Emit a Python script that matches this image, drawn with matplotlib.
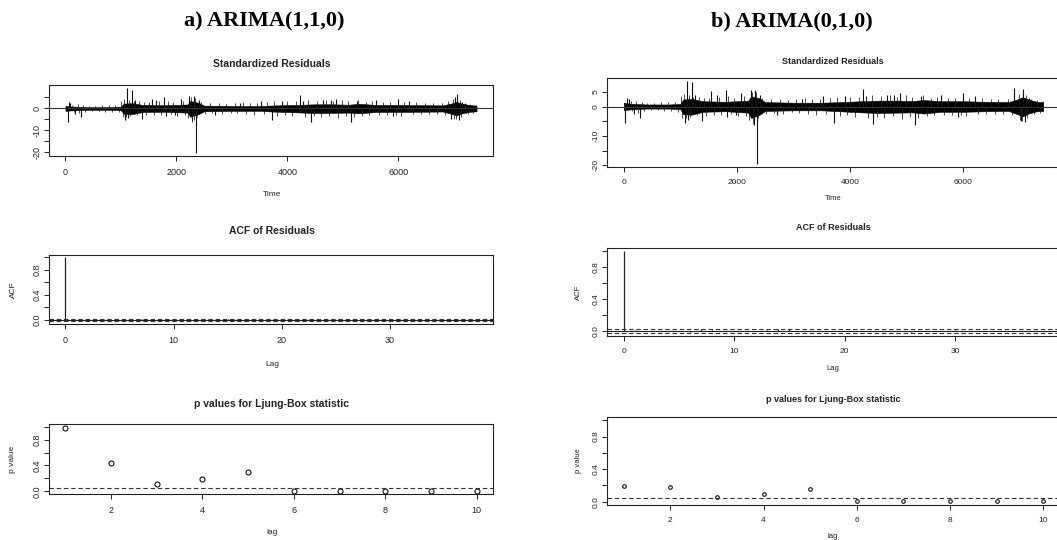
import matplotlib
matplotlib.use("Agg")
import matplotlib.pyplot as plt

W, H = 1057, 540

# ---- a) ARIMA(1,1,0): standardized residuals ----
# envelope of the dense band (time, upper, lower)
a_res_t = [1, 100, 400, 800, 1000, 1050, 1200, 1400, 1800, 2200, 2250, 2400, 2500,
           3000, 3500, 3800, 4200, 4500, 4800, 5100, 5300, 5600, 6000, 6400, 6800,
           6950, 7050, 7150, 7300, 7410]
a_res_hi = [1.1, 0.9, 0.6, 0.6, 0.8, 2.2, 2.4, 1.6, 1.5, 1.8, 3.4, 2.6, 1.3,
            1.1, 1.1, 1.4, 1.6, 1.9, 1.9, 1.7, 2.1, 1.6, 1.6, 1.5, 1.4,
            2.2, 3.0, 2.2, 1.5, 1.3]
a_res_lo = [-1.1, -0.9, -0.6, -0.6, -0.8, -2.4, -2.6, -1.6, -1.5, -1.9, -3.8, -2.6, -1.3,
            -1.1, -1.1, -1.5, -1.8, -2.1, -2.0, -1.9, -2.2, -1.6, -1.6, -1.5, -1.4,
            -2.4, -3.2, -2.2, -1.5, -1.3]
# isolated spikes (time, value)
a_spike_t = [40, 60, 90, 180, 280, 1080, 1115, 1130, 1200, 1260, 1385, 1560, 1640,
             1780, 1820, 1980, 2080, 2230, 2290, 2320, 2360, 2400, 2700, 3150, 3520,
             3720, 3900, 4220, 4280, 4420, 4650, 4780, 4880, 5150, 5250, 5600, 5900,
             6000, 6200, 6950, 7020, 7060, 7090, 7150]
a_spike_v = [-6.0, 3.0, 2.5, -2.5, -4.0, -5.5, 9.5, -4.5, 8.5, 4.0, -5.0, 4.5, 4.0,
             5.0, -3.5, -3.0, 4.5, 5.5, -5.5, 5.5, -20.5, 4.0, -3.0, 2.5, 3.5,
             -5.5, 3.5, 6.0, 3.5, -6.0, 4.0, 4.0, 4.5, -6.3, 3.5, 4.0, -3.5,
             4.5, 3.5, -5.0, 5.0, 6.5, -5.3, 3.0]
# smaller hairs sticking out of the band
a_hair_t = [120, 150, 220, 250, 320, 360, 420, 480, 540, 600, 660, 720, 780, 840, 900, 960,
            1010, 1030, 1060, 1095, 1150, 1170, 1230, 1290, 1330, 1420, 1460, 1500, 1600,
            1680, 1720, 1850, 1900, 1940, 2020, 2120, 2160,
            2210, 2260, 2275, 2310, 2340, 2380,
            2450, 2520, 2600, 2650, 2760, 2820, 2900, 2980, 3050, 3100, 3200, 3260, 3320,
            3400, 3460, 3580, 3640,
            3760, 3820, 3950, 4000, 4080, 4150, 4320, 4380, 4480, 4540, 4600, 4700, 4750,
            4830, 4920, 4980, 5050, 5100, 5200, 5280,
            5350, 5420, 5480, 5530, 5650, 5720, 5800, 5850, 5960, 6050, 6100, 6260, 6320,
            6400, 6480, 6550, 6620, 6700, 6780, 6850,
            6900, 6980, 7000, 7040, 7110, 7130, 7200, 7250, 7300, 7350, 7400]
a_hair_v = [1.8, -1.6, 2.0, -2.2, 1.5, -1.4, 1.3, -1.2, 1.2, -1.3, 1.4, -1.5, 1.4, -1.6, 1.5, -1.8,
            3.5, -3.8, 4.2, -4.0, 3.8, -3.6, 3.2, -3.0, 3.4, 2.8, -3.2, 3.0, -2.8,
            3.2, -3.0, 3.6, -2.6, 3.0, -3.4, 3.6, -3.2,
            -4.5, 5.0, -6.0, -5.2, 4.8, -4.0,
            3.0, -2.6, 2.4, -2.2, 2.6, -2.4, 2.2, -2.0, 2.4, -2.2, 2.8, -2.4, 2.6,
            -2.8, 2.6, -2.6, 3.0,
            3.2, -3.4, -3.0, 3.2, -3.6, 3.4, -3.8, 4.0, -3.6, 3.6, -4.0, 3.8, -3.4,
            3.2, -4.2, 3.8, -3.6, 3.4, -3.8, 4.0,
            -3.4, 3.0, -3.0, 3.2, -2.8, 3.0, -3.0, 2.8, -3.0, -3.4, 3.0, -2.6, 2.8,
            -2.6, 2.6, -2.4, 2.4, -2.6, 2.6, -3.0,
            3.5, 4.2, -4.6, -4.8, 4.0, -4.0, 2.6, -2.4, 2.2, -2.2, 1.8]
a_acf = [1.0, 0.004, -0.005, 0.003, -0.004, 0.002, -0.012, 0.015, 0.006, -0.003,
         0.004, 0.002, -0.003, 0.005, 0.015, 0.02, 0.004, -0.002, 0.003, -0.004,
         0.002, 0.003, -0.002, 0.004, -0.003, 0.002, -0.008, 0.003, -0.002, 0.004,
         0.008, -0.003, 0.002, 0.003, -0.004, 0.002, 0.003, -0.002, 0.004]
a_lb = [0.98, 0.44, 0.115, 0.19, 0.30, 0.01, 0.002, 0.001, 0.001, 0.001]

# ---- b) ARIMA(0,1,0) ----
b_res_t = a_res_t
b_res_hi = [1.3, 1.0, 0.7, 0.7, 0.9, 2.4, 2.6, 1.8, 1.6, 2.0, 3.5, 2.8, 1.5,
            1.3, 1.3, 1.5, 1.8, 2.0, 2.0, 1.9, 2.2, 1.8, 1.8, 1.6, 1.5,
            2.4, 3.2, 2.4, 1.6, 1.5]
b_res_lo = [-1.3, -1.0, -0.7, -0.7, -0.9, -2.6, -2.8, -1.8, -1.6, -2.1, -3.9, -2.8, -1.5,
            -1.3, -1.3, -1.6, -2.0, -2.2, -2.1, -2.0, -2.4, -1.8, -1.8, -1.6, -1.5,
            -2.6, -3.3, -2.4, -1.6, -1.5]
b_spike_t = [30, 60, 90, 180, 280, 1080, 1110, 1130, 1200, 1260, 1385, 1550, 1640,
             1800, 1820, 1980, 2080, 2250, 2300, 2320, 2360, 2400, 2700, 3150, 3520,
             3720, 3900, 4220, 4280, 4410, 4650, 4780, 4880, 5150, 5250, 5600, 5900,
             6000, 6200, 6890, 7010, 7060, 7090, 7150]
b_spike_v = [-5.5, 3.0, 2.5, -2.5, -4.0, -5.5, 8.6, -4.5, 8.3, 4.0, -5.0, 5.3, 4.0,
             5.6, -3.5, -3.0, 4.5, 5.7, -6.4, 5.5, -19.5, 4.0, -3.0, 2.5, 3.5,
             -5.5, 3.5, 6.0, 3.5, -5.9, 4.0, 4.0, 4.5, -6.2, 3.5, 4.0, -3.5,
             4.5, 3.5, 6.3, -5.0, 6.0, -5.3, 3.0]
b_hair_t = a_hair_t
b_hair_v = a_hair_v
b_acf = [1.0, 0.005, -0.006, 0.003, -0.004, 0.002, -0.014, 0.018, 0.01, -0.003,
         0.004, 0.002, -0.003, 0.005, 0.018, 0.02, 0.004, -0.002, 0.003, -0.004,
         0.002, 0.003, -0.002, 0.004, -0.003, 0.002, -0.01, 0.003, -0.002, 0.004,
         0.012, -0.003, 0.002, 0.003, -0.004, 0.002, 0.003, -0.002, 0.004]
b_lb = [0.197, 0.185, 0.054, 0.095, 0.16, 0.005, 0.004, 0.004, 0.004, 0.004]

lb_lags = list(range(1, 11))
n_obs = 7410
ci = 1.96 / n_obs ** 0.5

plt.rcParams["font.family"] = ["Liberation Sans", "DejaVu Sans"]
fig = plt.figure(figsize=(W / 100, H / 100), dpi=100)


def box(x0, y0, x1, y1):
    return [x0 / W, 1 - y1 / H, (x1 - x0) / W, (y1 - y0) / H]


def at(x, y):
    return x / W, 1 - y / H


def r_axes(ax, fs):
    for s in ax.spines.values():
        s.set_linewidth(0.8)
        s.set_color("#222222")
    ax.tick_params(direction="out", length=3.5, width=0.7, labelsize=fs,
                   colors="#222222", pad=2)
    for lab in ax.get_yticklabels():
        lab.set_rotation(90)
        lab.set_va("center")


def panel(cx, x0, x1, ylab_x, rows, res, acf, lb, sizes, res_labels):
    t_fs, k_fs, l_fs, ms = sizes
    res_t, res_hi, res_lo, sp_t, sp_v, hr_t, hr_v = res
    (r0, r1, r_title, r_lab), (c0, c1, c_title, c_lab), (p0, p1, p_title, p_lab) = rows

    # standardized residuals
    ax = fig.add_axes(box(x0, r0, x1, r1))
    ax.fill_between(res_t, res_lo, res_hi, color="black", lw=0.4)
    ax.vlines(hr_t, 0, hr_v, color="#1a1a1a", lw=0.55)
    ax.vlines(sp_t, 0, sp_v, color="#111111", lw=0.8)
    ax.axhline(0, color="#333333", lw=0.8)
    lo, hi = min(sp_v + res_lo), max(sp_v + res_hi)
    pad = 0.04 * (hi - lo)
    ax.set_ylim(lo - pad, hi + pad)
    ax.set_xlim(1 - 0.04 * (n_obs - 1), n_obs + 0.04 * (n_obs - 1))
    ax.set_xticks([0, 2000, 4000, 6000])
    ax.set_yticks([5, 0, -5, -10, -15, -20])
    ax.set_yticklabels(res_labels)
    r_axes(ax, k_fs)
    ax.tick_params(axis="x", pad=5)
    fig.text(*at(cx, r_title), "Standardized Residuals", ha="center", va="center",
             fontsize=t_fs, fontweight="bold", color="#222222")
    fig.text(*at(cx, r_lab), "Time", ha="center", va="center", fontsize=l_fs, color="#222222")

    # ACF of residuals
    ax = fig.add_axes(box(x0, c0, x1, c1))
    lags = list(range(len(acf)))
    ax.vlines(lags, 0, acf, color="#222222", lw=0.9)
    ax.axhline(0, color="#222222", lw=0.8)
    ax.axhline(ci, color="#333333", lw=0.8, ls=(0, (4, 2.5)))
    ax.axhline(-ci, color="#333333", lw=0.8, ls=(0, (4, 2.5)))
    ax.set_xlim(-0.04 * 38, 38 * 1.04)
    ax.set_ylim(-0.065, 1.04)
    ax.set_xticks([0, 10, 20, 30])
    ax.set_yticks([0, 0.2, 0.4, 0.6, 0.8, 1.0])
    ax.set_yticklabels(["0.0", "", "0.4", "", "0.8", ""])
    r_axes(ax, k_fs)
    ax.tick_params(axis="x", pad=5)
    fig.text(*at(cx, c_title), "ACF of Residuals", ha="center", va="center",
             fontsize=t_fs, fontweight="bold", color="#222222")
    fig.text(*at(cx, c_lab), "Lag", ha="center", va="center", fontsize=l_fs, color="#222222")
    fig.text(*at(ylab_x, (c0 + c1) / 2), "ACF", ha="center", va="center",
             rotation=90, fontsize=l_fs, color="#222222")

    # Ljung-Box p values
    ax = fig.add_axes(box(x0, p0, x1, p1))
    ax.plot(lb_lags, lb, "o", mfc="none", mec="#111111", ms=ms, mew=0.8)
    ax.axhline(0.05, color="#333333", lw=0.8, ls=(0, (4, 2.5)))
    ax.set_xlim(1 - 0.36, 10.36)
    ax.set_ylim(-0.04, 1.04)
    ax.set_xticks([2, 4, 6, 8, 10])
    ax.set_yticks([0, 0.2, 0.4, 0.6, 0.8, 1.0])
    ax.set_yticklabels(["0.0", "", "0.4", "", "0.8", ""])
    r_axes(ax, k_fs)
    ax.tick_params(axis="x", pad=5)
    fig.text(*at(cx, p_title), "p values for Ljung-Box statistic", ha="center",
             va="center", fontsize=t_fs, fontweight="bold", color="#222222")
    fig.text(*at(cx, p_lab), "lag", ha="center", va="center", fontsize=l_fs, color="#222222")
    fig.text(*at(ylab_x, (p0 + p1) / 2), "p value", ha="center", va="center",
             rotation=90, fontsize=l_fs, color="#222222")


panel(272, 49, 493, 13,
      [(85, 156, 64, 194), (255, 324, 231, 364), (424, 494, 404, 533)],
      (a_res_t, a_res_hi, a_res_lo, a_spike_t, a_spike_v, a_hair_t, a_hair_v),
      a_acf, a_lb, (7.5, 6.5, 6.0, 3.6), ["", "0", "", "-10", "", "-20"])
panel(833, 607, 1060, 578,
      [(78, 167, 62, 199), (248, 336, 227, 368), (417, 505, 400, 537)],
      (b_res_t, b_res_hi, b_res_lo, b_spike_t, b_spike_v, b_hair_t, b_hair_v),
      b_acf, b_lb, (6.5, 6.0, 5.5, 2.6), ["5", "0", "", "-10", "", "-20"])

fig.text(*at(264, 21), "a) ARIMA(1,1,0)", ha="center", va="center",
         family=["Liberation Serif"], fontweight="bold", fontsize=16)
fig.text(*at(792, 21), "b) ARIMA(0,1,0)", ha="center", va="center",
         family=["Liberation Serif"], fontweight="bold", fontsize=16)

fig.savefig("out.png", dpi=100)
